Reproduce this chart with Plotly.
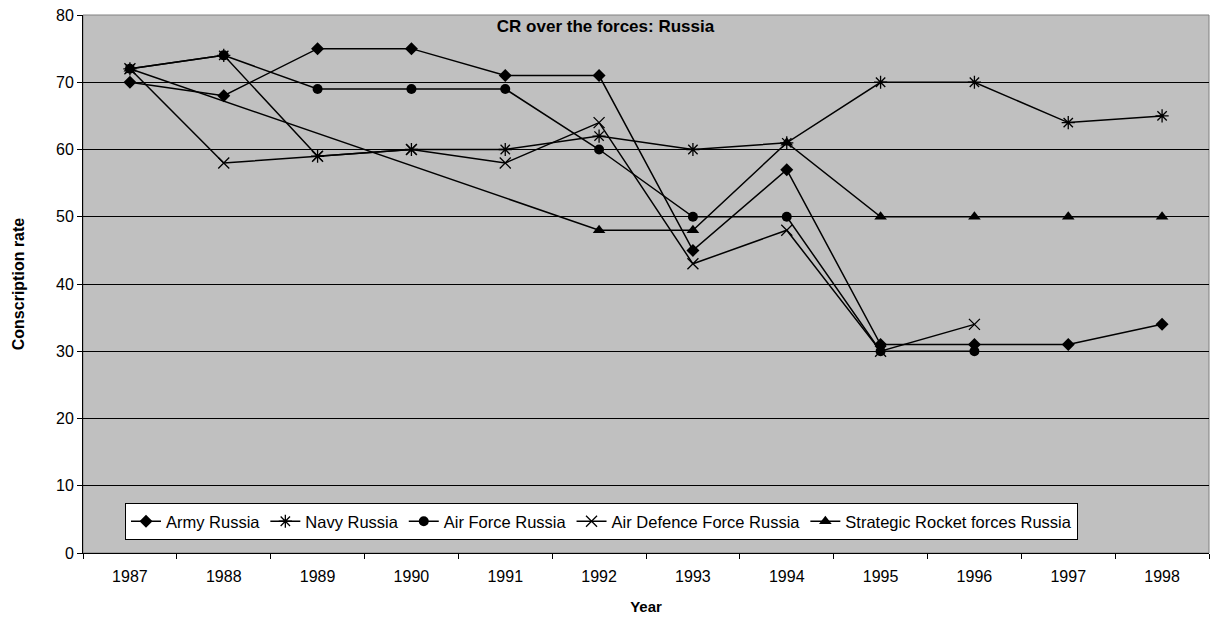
import plotly.graph_objects as go

# Conscription rate by branch of the Russian armed forces
years = ["1987", "1988", "1989", "1990", "1991", "1992",
         "1993", "1994", "1995", "1996", "1997", "1998"]

army = [70, 68, 75, 75, 71, 71, 45, 57, 31, 31, 31, 34]
navy = [72, 74, 59, 60, 60, 62, 60, 61, 70, 70, 64, 65]

air_force_years = ["1987", "1988", "1989", "1990", "1991", "1992",
                   "1993", "1994", "1995", "1996"]
air_force = [72, 74, 69, 69, 69, 60, 50, 50, 30, 30]

air_defence_years = ["1987", "1988", "1989", "1990", "1991", "1992",
                     "1993", "1994", "1995", "1996"]
air_defence = [72, 58, 59, 60, 58, 64, 43, 48, 30, 34]

rocket_years = ["1987", "1992", "1993", "1994", "1995", "1996", "1997", "1998"]
rocket = [72, 48, 48, 61, 50, 50, 50, 50]

FONT = "Arial, Liberation Sans, sans-serif"
LINE = dict(color="black", width=1.5)

series = [
    ("Army Russia", years, army, dict(symbol="diamond", size=10, color="black")),
    ("Navy Russia", years, navy,
     dict(symbol="asterisk-open", size=11, color="black", line=dict(color="black", width=1.3))),
    ("Air Force Russia", air_force_years, air_force, dict(symbol="circle", size=10, color="black")),
    ("Air Defence Force Russia", air_defence_years, air_defence,
     dict(symbol="x-thin-open", size=11, color="black", line=dict(color="black", width=1.3))),
    ("Strategic Rocket forces Russia", rocket_years, rocket,
     dict(symbol="triangle-up", size=11, color="black")),
]

fig = go.Figure()
for name, xs, ys, marker in series:
    fig.add_trace(go.Scatter(x=xs, y=ys, name=name, mode="lines+markers",
                             line=LINE, marker=marker))

fig.update_layout(
    width=1211, height=622,
    margin=dict(l=83, r=2, t=15, b=69),
    paper_bgcolor="white",
    plot_bgcolor="#C0C0C0",
    font=dict(family=FONT, size=16, color="black"),
    title=dict(text="<b>CR over the forces: Russia</b>", x=0.5, xref="container",
               y=1 - 26 / 622, yref="container", xanchor="center", yanchor="middle",
               font=dict(family=FONT, size=17, color="black")),
    showlegend=True,
    legend=dict(orientation="h", x=0.0373, y=0.0929, xanchor="left", yanchor="top",
                bgcolor="white", bordercolor="black", borderwidth=1,
                font=dict(family=FONT, size=16.5, color="black"),
                itemwidth=30, tracegroupgap=0),
    shapes=[dict(type="rect", xref="paper", yref="paper", x0=0, y0=0, x1=1, y1=1,
                 line=dict(color="#808080", width=1), layer="below")],
)

fig.update_xaxes(
    type="category", categoryorder="array", categoryarray=years,
    range=[-0.5, len(years) - 0.5], autorange=False,
    tickson="boundaries", ticks="outside", ticklen=5, tickcolor="black",
    ticklabelstandoff=9,
    showline=True, linecolor="black", linewidth=1, showgrid=False,
    title=dict(text="<b>Year</b>", font=dict(family=FONT, size=15, color="black"), standoff=17),
    tickfont=dict(family=FONT, size=16, color="black"),
)
fig.update_yaxes(
    range=[0, 80], dtick=10, ticks="outside", ticklen=5, tickcolor="black",
    showline=True, linecolor="black", linewidth=1,
    showgrid=True, gridcolor="black", gridwidth=1, zeroline=False,
    title=dict(text="<b>Conscription rate</b>", font=dict(family=FONT, size=16, color="black"),
               standoff=27),
    tickfont=dict(family=FONT, size=16, color="black"),
)

fig.write_html("out.html")
